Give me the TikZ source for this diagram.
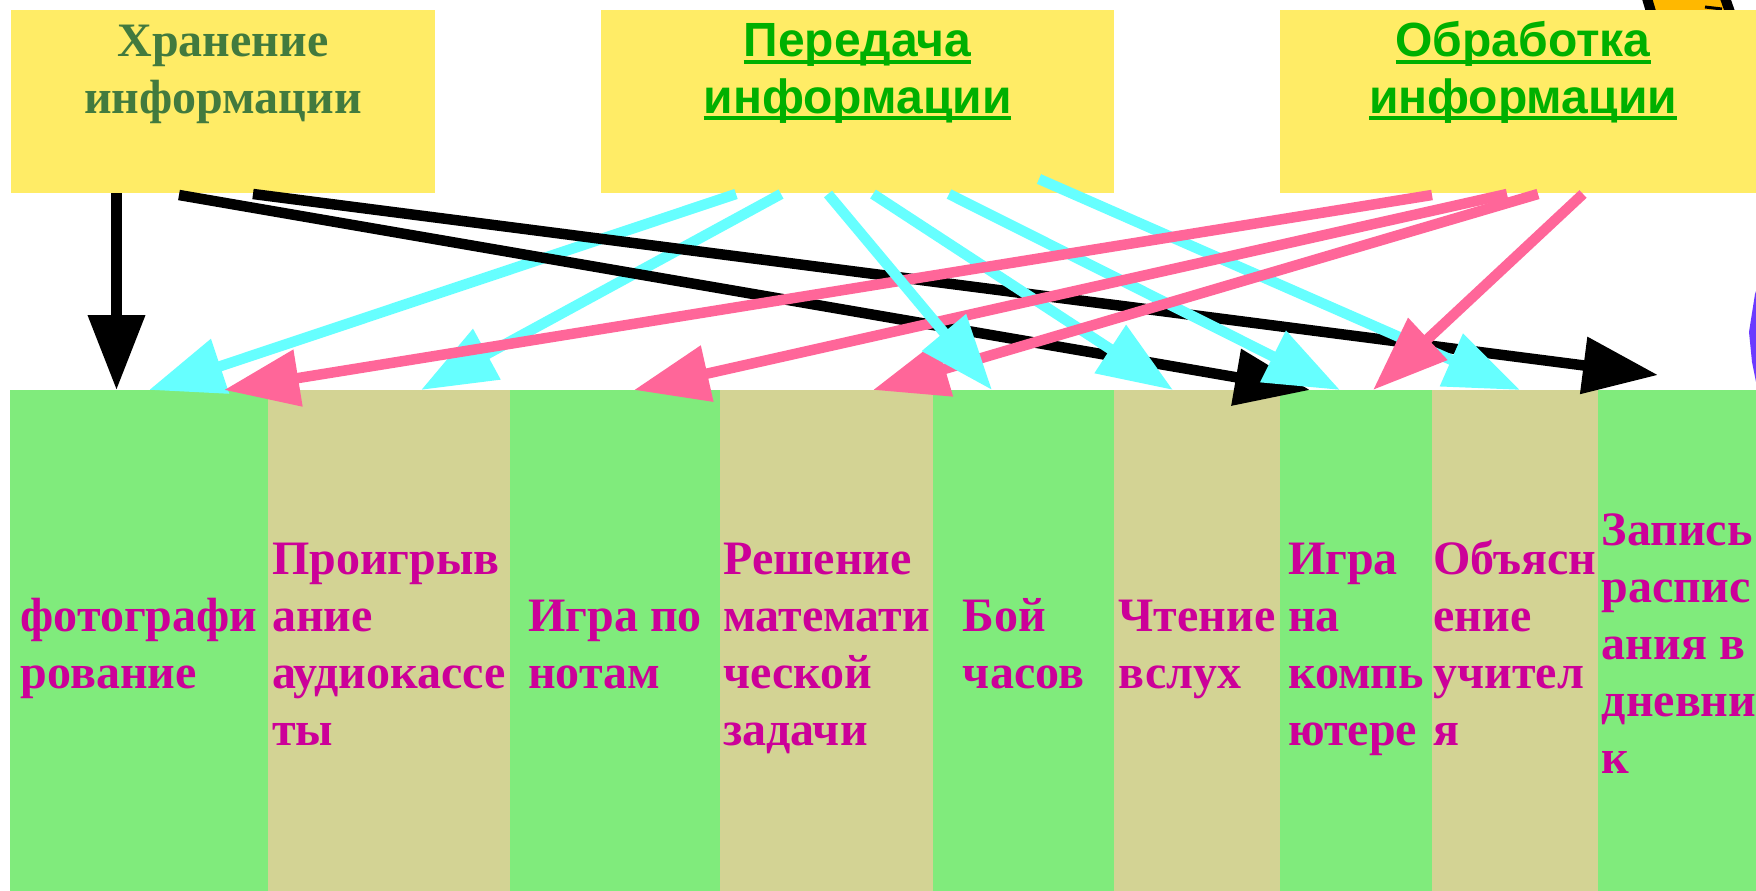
\documentclass[tikz,border=0pt]{standalone}
\usepackage{fontspec}
\setmainfont{Liberation Serif}
\newfontfamily\arialfont{Liberation Sans}
\usetikzlibrary{arrows.meta,calc}

\definecolor{boxyellow}{HTML}{FFEC66}
\definecolor{colgreen}{HTML}{80EB7C}
\definecolor{coltan}{HTML}{D3D394}
\definecolor{cyanarr}{HTML}{66FFFF}
\definecolor{pinkarr}{HTML}{FF6699}
\definecolor{darkgreentext}{HTML}{427A3E}
\definecolor{greentext}{HTML}{00B000}
\definecolor{magentatext}{HTML}{CC0099}
\definecolor{orangeshape}{HTML}{FFB800}
\definecolor{purpleshape}{HTML}{6B3BFF}

\newcommand\clines[1]{\vtop{\halign{\hfil##\hfil\cr#1\crcr}}}
\newcommand\llines[1]{\vtop{\halign{##\hfil\cr#1\crcr}}}
\newcommand\myul[1]{\setbox0\hbox{#1}\rlap{\rule[-7pt]{\wd0}{4pt}}\box0}

\tikzset{
  topbox/.style={fill=boxyellow, draw=none, inner sep=0, outer sep=0, anchor=north west, minimum height=183pt},
  colbox/.style={draw=none, inner sep=0, outer sep=0, anchor=north west, minimum height=502pt},
  arr/.style={line width=10.5pt, -{Triangle[length=75pt,width=55pt]}},
  blackarrow/.style={arr, draw=black},
  cyanarrow/.style={arr, draw=cyanarr},
  pinkarrow/.style={arr, draw=pinkarr},
  serifhead/.style={anchor=base, inner sep=0, text=darkgreentext, font=\fontsize{48}{57}\selectfont\bfseries},
  sanshead/.style={anchor=base, inner sep=0, text=greentext, font=\arialfont\fontsize{48}{56}\selectfont\bfseries},
  coltext/.style={anchor=base, inner sep=0, text=magentatext, font=\fontsize{48}{57}\selectfont\bfseries},
}

\begin{document}
\begin{tikzpicture}[x=1pt, y=-1pt]
\useasboundingbox (0,0) rectangle (1756,891);
\fill[white] (0,0) rectangle (1756,891);

% partially hidden shapes at the right edge
\fill[orangeshape] (1648,-5) -- (1654,15) -- (1728,15) -- (1722,-5) -- cycle;
\draw[line width=10pt] (1646,-5) -- (1652,15);
\draw[line width=10pt] (1724,-5) -- (1731,15);
\draw[line width=3pt] (1705,7) -- (1722,9);
\fill[purpleshape] (1757,288) -- (1755,294) -- (1749,332) -- (1752,362) -- (1756,382) -- (1757,382) -- cycle;

% top boxes
\node[topbox, minimum width=424pt] (hran) at (11,10) {};
\node[topbox, minimum width=513pt] (per) at (601,10) {};
\node[topbox, minimum width=490pt] (obr) at (1280,10) {};

\node[serifhead] (hrantxt) at (223,57) {\clines{Хранение\cr информации}};
\node[sanshead] (pertxt) at (857.5,57) {\clines{\myul{Передача}\cr \myul{информации}}};
\node[sanshead] (obrtxt) at (1523,57) {\clines{\myul{Обработка}\cr \myul{информации}}};

% columns
\node[colbox, fill=colgreen, minimum width=258.5pt] (c1) at (10,390) {};
\node[colbox, fill=coltan,   minimum width=242.5pt] (c2) at (268,390) {};
\node[colbox, fill=colgreen, minimum width=210.5pt] (c3) at (510,390) {};
\node[colbox, fill=coltan,   minimum width=213.5pt] (c4) at (720,390) {};
\node[colbox, fill=colgreen, minimum width=181.5pt] (c5) at (933,390) {};
\node[colbox, fill=coltan,   minimum width=166.5pt] (c6) at (1114,390) {};
\node[colbox, fill=colgreen, minimum width=152.5pt] (c7) at (1280,390) {};
\node[colbox, fill=coltan,   minimum width=166.5pt] (c8) at (1432,390) {};
\node[colbox, fill=colgreen, minimum width=162pt]   (c9) at (1598,390) {};

\node[coltext] (t1) at (139,631) {\llines{фотографи\cr рование}};
\node[coltext] (t2) at (389,574) {\llines{Проигрыв\cr ание\cr аудиокассе\cr ты}};
\node[coltext] (t3) at (615,631) {\llines{Игра по\cr нотам}};
\node[coltext] (t4) at (826.5,574) {\llines{Решение\cr математи\cr ческой\cr задачи}};
\node[coltext] (t5) at (1023.5,631) {\llines{Бой\cr часов}};
\node[coltext] (t6) at (1197,631) {\llines{Чтение\cr вслух}};
\node[coltext] (t7) at (1356,574) {\llines{Игра\cr на\cr компь\cr ютере}};
\node[coltext] (t8) at (1515,574) {\llines{Объясн\cr ение\cr учител\cr я}};
\node[coltext] (t9) at (1679,545.5) {\llines{Запись\cr распис\cr ания в\cr дневни\cr к}};

% connector ends
\coordinate (hs0) at ($(hran.south west)+(105.5,0)$);
\coordinate (hs1) at ($(hran.south west)+(168,2)$);
\coordinate (hs2) at ($(hran.south west)+(242,1)$);
\coordinate (ps1) at ($(per.south west)+(135,1)$);
\coordinate (ps2) at ($(per.south west)+(180,1)$);
\coordinate (ps3) at ($(per.south west)+(227,1)$);
\coordinate (ps4) at ($(per.south west)+(272,1)$);
\coordinate (ps5) at ($(per.south west)+(348,1)$);
\coordinate (ps6) at ($(per.south west)+(438,-14)$);
\coordinate (os1) at ($(obr.south west)+(152,2)$);
\coordinate (os2) at ($(obr.south west)+(227,1)$);
\coordinate (os3) at ($(obr.south west)+(258,1)$);
\coordinate (os4) at ($(obr.south west)+(303,1)$);

\coordinate (e1a) at ($(c1.north west)+(106.5,0)$);
\coordinate (e1b) at ($(c1.north west)+(139,0)$);
\coordinate (e1c) at ($(c1.north west)+(214,0)$);
\coordinate (e2a) at ($(c2.north west)+(153,0)$);
\coordinate (e3a) at ($(c3.north west)+(124,0)$);
\coordinate (e4a) at ($(c4.north west)+(153,0)$);
\coordinate (e5a) at ($(c5.north west)+(59,0)$);
\coordinate (e6a) at ($(c6.north west)+(59,0)$);
\coordinate (e7a) at ($(c7.north west)+(30,0)$);
\coordinate (e7b) at ($(c7.north west)+(60,0)$);
\coordinate (e7c) at ($(c7.north west)+(93,0)$);
\coordinate (e8a) at ($(c8.north west)+(88,0)$);
\coordinate (e9a) at ($(c9.north west)+(60,-15)$);

% connectors
\draw[cyanarrow] (ps1) -- (e1b);
\draw[cyanarrow] (ps2) -- (e2a);
\draw[blackarrow] (hs0) -- (e1a);
\draw[blackarrow] (hs1) -- (e7a);
\draw[blackarrow] (hs2) -- (e9a);
\draw[cyanarrow] (ps4) -- (e6a);
\draw[cyanarrow] (ps5) -- (e7b);
\draw[cyanarrow] (ps6) -- (e8a);
\draw[pinkarrow] (os1) -- (e1c);
\draw[pinkarrow] (os2) -- (e3a);
\draw[pinkarrow] (os3) -- (e4a);
\draw[pinkarrow] (os4) -- (e7c);
\draw[cyanarrow] (ps3) -- (e5a);
\end{tikzpicture}
\end{document}
